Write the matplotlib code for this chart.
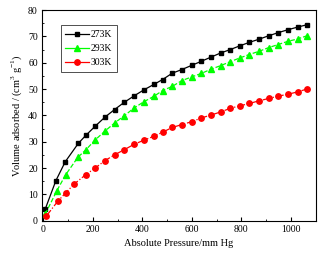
import matplotlib
matplotlib.use("Agg")
import matplotlib.pyplot as plt
from matplotlib.ticker import MultipleLocator

plt.rcParams['font.family'] = ['Liberation Serif', 'DejaVu Serif']
plt.rcParams['mathtext.fontset'] = 'custom'
plt.rcParams['mathtext.rm'] = 'Liberation Serif'

p_273 = [8, 51, 89, 142, 172, 210, 249, 288, 328, 367, 407, 448, 482, 521, 560, 600,
         638, 677, 717, 756, 794, 832, 871, 910, 949, 988, 1027, 1065]
v_273 = [4.4, 15.2, 22.4, 29.4, 32.4, 35.9, 39.3, 42.2, 45.0, 47.4, 49.7, 51.8, 53.6, 56.0,
         57.4, 59.0, 60.5, 62.1, 63.7, 65.0, 66.4, 67.7, 68.9, 70.2, 71.4, 72.5, 73.5, 74.4]

p_293 = [8, 55, 91, 140, 172, 210, 249, 288, 328, 367, 407, 448, 482, 521, 560, 600,
         638, 677, 717, 756, 794, 832, 871, 910, 949, 988, 1027, 1065]
v_293 = [2.5, 11.4, 17.5, 24.1, 26.9, 30.7, 34.0, 37.1, 39.9, 42.8, 45.2, 47.3, 49.4, 51.0,
         53.2, 54.6, 55.9, 57.5, 58.9, 60.4, 61.8, 63.1, 64.3, 65.7, 66.9, 68.1, 69.0, 70.2]

p_303 = [11, 58, 91, 126, 172, 210, 249, 288, 328, 367, 407, 448, 482, 521, 560, 600,
         638, 677, 717, 756, 794, 832, 871, 910, 949, 988, 1027, 1065]
v_303 = [1.6, 7.3, 10.6, 14.0, 17.5, 20.0, 22.8, 25.0, 27.0, 29.0, 30.6, 32.1, 33.6, 35.4,
         36.5, 37.6, 39.0, 40.1, 41.3, 42.7, 43.6, 44.5, 45.5, 46.4, 47.3, 48.0, 48.9, 50.0]

fig = plt.figure(figsize=(3.27, 2.59), dpi=100)
ax = fig.add_axes([42 / 327, 1 - 220.7 / 259, 273.6 / 327, 210.7 / 259])

ax.plot(p_273, v_273, '-', color='black', marker='s', ms=3.4, lw=0.9, label='273K')
ax.plot(p_293, v_293, '--', color='#00ff00', marker='^', ms=3.9, lw=0.9, label='293K')
ax.plot(p_303, v_303, '-.', color='red', marker='o', ms=3.9, lw=0.9, label='303K')

ax.set_xlim(-5, 1100)
ax.set_ylim(0, 80)
ax.xaxis.set_major_locator(MultipleLocator(200))
ax.xaxis.set_minor_locator(MultipleLocator(100))
ax.yaxis.set_major_locator(MultipleLocator(10))
ax.yaxis.set_minor_locator(MultipleLocator(5))
ax.tick_params(which='both', direction='in', labelsize=7, pad=3)
ax.tick_params(which='major', length=3)
ax.tick_params(which='minor', length=1.5)

ax.set_xlabel('Absolute Pressure/mm Hg', fontsize=7.5, labelpad=4)
ax.set_ylabel('Volume adsorbed / (cm$^3$ g$^{-1}$)', fontsize=7.5, labelpad=3)

leg = ax.legend(loc='upper left', bbox_to_anchor=(0.05, 0.95), fontsize=7, frameon=True,
                fancybox=False, edgecolor='black', handlelength=2.4, borderpad=0.5,
                labelspacing=0.5, handletextpad=0.2)
leg.get_frame().set_linewidth(0.6)
for line in leg.get_lines():
    line.set_linestyle('-')

fig.savefig('out.png', dpi=100)
